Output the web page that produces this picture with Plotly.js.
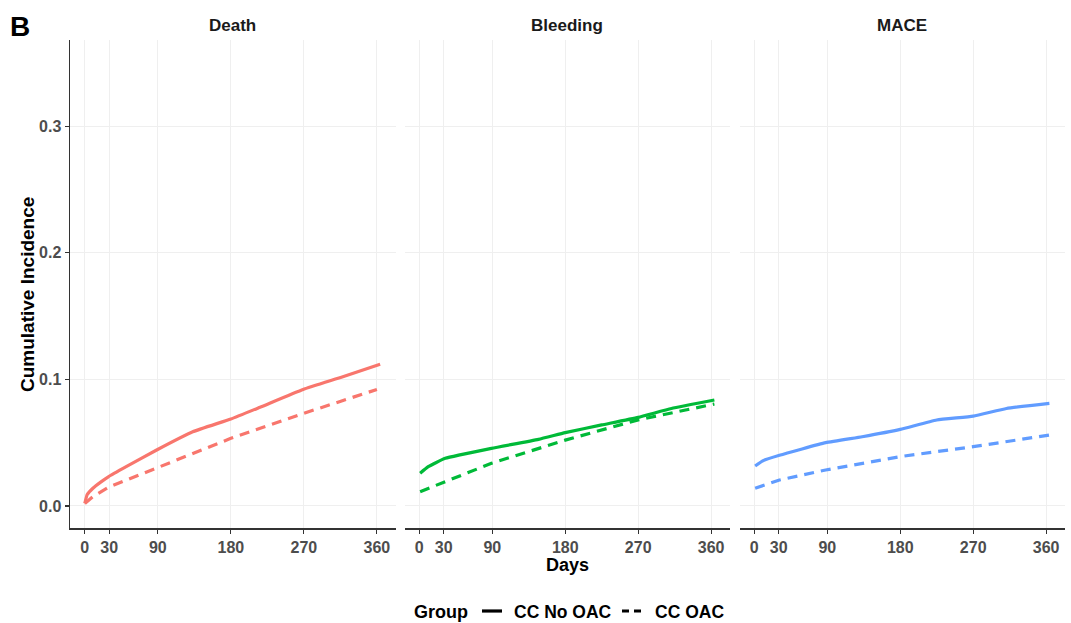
<!DOCTYPE html>
<html>
<head>
<meta charset="utf-8">
<script src="https://cdn.plot.ly/plotly-3.0.1.min.js"></script>
<style>html,body{margin:0;padding:0;background:#fff}#chart{width:1071px;height:623px}</style>
</head>
<body>
<div id="chart"></div>
<script>
const panels = ["Death", "Bleeding", "MACE"];
const groups = ["CC No OAC", "CC OAC"];
const colors = ["#F8766D", "#00BA38", "#619CFF"];

const deathNoOacDays = [0, 3, 10, 20, 29, 51, 88, 133, 180, 216, 269, 318, 364];
const deathNoOac     = [0.002, 0.009, 0.014, 0.019, 0.023, 0.031, 0.044, 0.0586, 0.0687, 0.078, 0.092, 0.102, 0.112];
const deathOacDays   = [0, 10, 30, 88, 180, 269, 360];
const deathOac       = [0.002, 0.0074, 0.015, 0.0297, 0.0534, 0.073, 0.092];

const bleedNoOacDays = [1, 11, 32, 89, 147, 180, 225, 270, 311, 364];
const bleedNoOac     = [0.0258, 0.031, 0.0376, 0.0455, 0.0526, 0.0579, 0.064, 0.070, 0.077, 0.0837];
const bleedOacDays   = [1, 32, 89, 180, 270, 364];
const bleedOac       = [0.0113, 0.019, 0.0337, 0.052, 0.068, 0.0805];

const maceNoOacDays  = [1, 11, 31, 88, 133, 180, 225, 270, 311, 364];
const maceNoOac      = [0.0316, 0.0358, 0.040, 0.050, 0.0547, 0.0605, 0.0679, 0.071, 0.077, 0.081];
const maceOacDays    = [1, 31, 88, 180, 270, 364];
const maceOac        = [0.014, 0.0205, 0.0284, 0.039, 0.0468, 0.056];

const xTicks = [0, 30, 90, 180, 270, 360];
const yTicks = [0, 0.1, 0.2, 0.3];
const yTickLabels = ["0.0", "0.1", "0.2", "0.3"];

const series = [
  [deathNoOacDays, deathNoOac, deathOacDays, deathOac],
  [bleedNoOacDays, bleedNoOac, bleedOacDays, bleedOac],
  [maceNoOacDays, maceNoOac, maceOacDays, maceOac]
];

const FONT = "Arial, 'Liberation Sans', sans-serif";
const ML = 70, MT = 40, PW = 995, PH = 488;
const px = v => (v - ML) / PW;
const py = v => (MT + PH - v) / PH;

const traces = [];
series.forEach((s, i) => {
  const xa = i === 0 ? "x" : "x" + (i + 1);
  const ya = i === 0 ? "y" : "y" + (i + 1);
  traces.push({x: s[0], y: s[1], xaxis: xa, yaxis: ya, mode: "lines", showlegend: false,
    line: {color: colors[i], width: 3.2, shape: "spline", smoothing: 0.4}, hoverinfo: "skip"});
  traces.push({x: s[2], y: s[3], xaxis: xa, yaxis: ya, mode: "lines", showlegend: false,
    line: {color: colors[i], width: 3.2, dash: "10px,7px"}, hoverinfo: "skip"});
});

const domains = [[0, 0.3274], [0.3362, 0.6633], [0.6729, 1]];
const layout = {
  width: 1071, height: 623,
  margin: {l: ML, r: 1071 - ML - PW, t: MT, b: 623 - MT - PH},
  paper_bgcolor: "#fff", plot_bgcolor: "#fff",
  font: {family: FONT, color: "#000"},
  showlegend: false,
  annotations: [
    {text: "B", x: px(8), y: py(9), xref: "paper", yref: "paper", showarrow: false, xanchor: "left", yanchor: "top",
     font: {size: 28, weight: "bold", color: "#000"}},
    {text: "Days", xref: "paper", yref: "paper", x: px(567.5), y: py(565), showarrow: false, xanchor: "center", yanchor: "middle",
     font: {size: 18, weight: "bold", color: "#000"}},
    {text: "Cumulative Incidence", xref: "paper", yref: "paper", x: px(27), y: py(295), showarrow: false,
     textangle: -90, xanchor: "center", yanchor: "middle", font: {size: 19, weight: "bold", color: "#000"}},
    {text: "Group", xref: "paper", yref: "paper", x: px(412), y: py(612), showarrow: false,
     xanchor: "left", yanchor: "middle", font: {size: 18, weight: "bold", color: "#000"}},
    {text: groups[0], xref: "paper", yref: "paper", x: px(512), y: py(612), showarrow: false,
     xanchor: "left", yanchor: "middle", font: {size: 17.5, weight: "bold", color: "#000"}},
    {text: groups[1], xref: "paper", yref: "paper", x: px(653), y: py(612), showarrow: false,
     xanchor: "left", yanchor: "middle", font: {size: 17.5, weight: "bold", color: "#000"}}
  ],
  shapes: [
    {type: "line", xref: "paper", yref: "paper", x0: px(482), x1: px(502), y0: py(611), y1: py(611),
     line: {color: "#000", width: 3.2}},
    {type: "line", xref: "paper", yref: "paper", x0: px(622), x1: px(646), y0: py(611), y1: py(611),
     line: {color: "#000", width: 3.2, dash: "7px,5px"}}
  ]
};

panels.forEach((p, i) => {
  const sfx = i === 0 ? "" : String(i + 1);
  layout["xaxis" + sfx] = {
    domain: domains[i], anchor: "y" + sfx, range: [-18.25, 383.25],
    tickvals: xTicks, ticktext: xTicks.map(String), ticks: "outside", ticklen: 4, tickwidth: 1.2, tickcolor: "#333",
    showline: true, linecolor: "#333", linewidth: 1.5,
    showgrid: true, gridcolor: "#efefef", gridwidth: 1, zeroline: false,
    tickfont: {size: 16, weight: "bold", color: "#4D4D4D"}, fixedrange: true
  };
  layout["yaxis" + sfx] = {
    domain: [0, 1], anchor: "x" + sfx, range: [-0.0174, 0.368],
    tickvals: yTicks, ticktext: yTickLabels,
    ticks: i === 0 ? "outside" : "", ticklen: 4, tickwidth: 1.2, tickcolor: "#333",
    showticklabels: i === 0, showline: i === 0, linecolor: "#333", linewidth: 1.5,
    showgrid: true, gridcolor: "#efefef", gridwidth: 1, zeroline: false,
    tickfont: {size: 16, weight: "bold", color: "#4D4D4D"}, fixedrange: true
  };
  layout.annotations.push({text: p, xref: "paper", yref: "paper",
    x: (domains[i][0] + domains[i][1]) / 2, y: py(26), showarrow: false,
    xanchor: "center", yanchor: "middle", font: {size: 17, weight: "bold", color: "#1a1a1a"}});
});

Plotly.newPlot("chart", traces, layout, {displayModeBar: false, staticPlot: true});
</script>
</body>
</html>
